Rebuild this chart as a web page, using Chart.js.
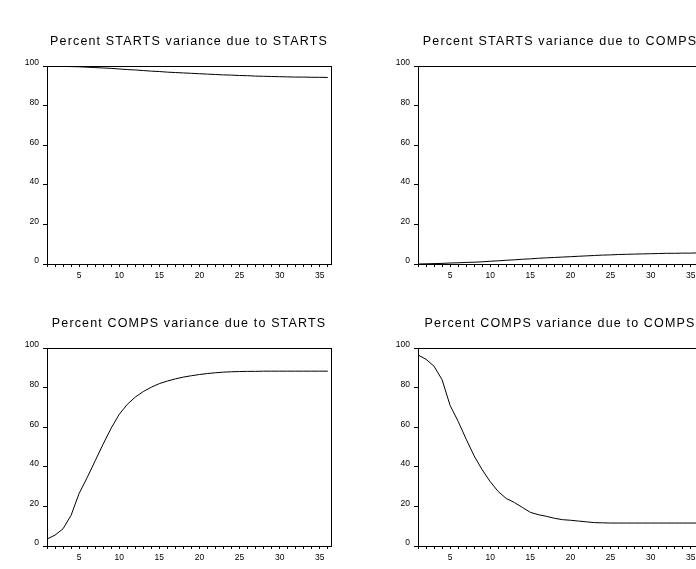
<!DOCTYPE html>
<html>
<head>
<meta charset="utf-8">
<script src="https://cdn.jsdelivr.net/npm/chart.js@4/dist/chart.umd.min.js"></script>
<style>
  html, body { margin: 0; padding: 0; background: #fff; overflow: hidden; width: 696px; height: 569px; }
  canvas { position: absolute; }
</style>
</head>
<body>
<canvas id="c1" width="340" height="288" style="left:0;top:0"></canvas>
<canvas id="c2" width="340" height="288" style="left:371px;top:0"></canvas>
<canvas id="c3" width="340" height="288" style="left:0;top:282px"></canvas>
<canvas id="c4" width="340" height="288" style="left:371px;top:282px"></canvas>
<script>
const periods = [1, 2, 3, 4, 5, 6, 7, 8, 9, 10, 11, 12, 13, 14, 15, 16, 17, 18,
  19, 20, 21, 22, 23, 24, 25, 26, 27, 28, 29, 30, 31, 32, 33, 34, 35, 36];

const titles = [
  'Percent STARTS variance due to STARTS',
  'Percent STARTS variance due to COMPS',
  'Percent COMPS variance due to STARTS',
  'Percent COMPS variance due to COMPS'
];

const yTicks = [0, 20, 40, 60, 80, 100];
const xLabels = [5, 10, 15, 20, 25, 30, 35];

const startsByStarts = [100, 99.9, 99.8, 99.7, 99.6, 99.4, 99.2, 99.0, 98.8, 98.5, 98.2, 98.0,
  97.7, 97.4, 97.2, 96.9, 96.7, 96.5, 96.3, 96.1, 95.9, 95.7, 95.5, 95.4,
  95.2, 95.1, 94.9, 94.8, 94.7, 94.6, 94.5, 94.4, 94.4, 94.3, 94.3, 94.2];

const startsByComps = [0, 0.1, 0.2, 0.3, 0.5, 0.6, 0.8, 0.9, 1.1, 1.4, 1.6, 1.9,
  2.1, 2.4, 2.6, 2.9, 3.1, 3.3, 3.5, 3.7, 3.9, 4.1, 4.3, 4.5,
  4.6, 4.8, 4.9, 5.0, 5.1, 5.2, 5.3, 5.4, 5.4, 5.5, 5.5, 5.6];

const compsByStarts = [3.5, 5.5, 8.7, 15.5, 26.5, 34.5, 43, 51.5, 59.5, 66.5, 71.5, 75.2,
  78, 80.2, 82, 83.3, 84.4, 85.3, 86, 86.6, 87.1, 87.5, 87.8, 88.0,
  88.1, 88.2, 88.2, 88.3, 88.3, 88.3, 88.3, 88.3, 88.3, 88.3, 88.3, 88.3];

const compsByComps = [96.5, 94.3, 90.8, 84, 71, 63, 54, 45.5, 38.5, 32.5, 27.5, 24,
  22, 19.5, 17, 15.8, 15, 14, 13.3, 13, 12.6, 12.2, 11.8, 11.7,
  11.6, 11.6, 11.6, 11.6, 11.6, 11.6, 11.6, 11.6, 11.6, 11.6, 11.6, 11.6];

const fontFamily = 'Arial, "Liberation Sans", sans-serif';

// box around the plot area
const frame = {
  id: 'frame',
  afterDatasetsDraw(chart) {
    const { ctx, chartArea: a } = chart;
    ctx.save();
    ctx.strokeStyle = '#000';
    ctx.lineWidth = 1;
    ctx.strokeRect(Math.round(a.left) + 0.5, Math.round(a.top) + 0.5,
      Math.round(a.right - a.left), Math.round(a.bottom - a.top));
    ctx.restore();
  }
};

function makePanel(id, title, values) {
  const chart = new Chart(document.getElementById(id), {
    type: 'line',
    data: {
      datasets: [{
        data: periods.map((p, i) => ({ x: p, y: values[i] })),
        borderColor: '#000',
        borderWidth: 1,
        pointRadius: 0,
        tension: 0,
        fill: false
      }]
    },
    options: {
      responsive: false,
      animation: false,
      events: [],
      layout: { padding: { top: 0, left: 0, right: 9, bottom: 0 } },
      plugins: {
        legend: { display: false },
        tooltip: { enabled: false },
        title: {
          display: true,
          text: title,
          fullSize: false,
          color: '#000',
          font: { family: fontFamily, size: 12.5, weight: 'normal', lineHeight: 1.2 },
          padding: { top: 34, bottom: 17 }
        }
      },
      scales: {
        x: {
          type: 'linear',
          min: 1,
          max: 36.4,
          afterFit(s) { s.height = 24; },
          grid: { drawOnChartArea: false, drawTicks: true, tickLength: 3, color: '#000' },
          border: { display: false },
          ticks: {
            stepSize: 1,
            includeBounds: false,
            autoSkip: false,
            maxRotation: 0,
            padding: 4,
            color: '#000',
            font: { family: fontFamily, size: 8.5 },
            callback: v => xLabels.includes(v) ? String(v) : ''
          }
        },
        y: {
          min: 0,
          max: 100,
          afterFit(s) { s.width = 47; },
          afterBuildTicks(s) { s.ticks = yTicks.map(v => ({ value: v })); },
          grid: { drawOnChartArea: false, drawTicks: true, tickLength: 4, color: '#000' },
          border: { display: false },
          ticks: {
            padding: 4,
            labelOffset: -3,
            color: '#000',
            font: { family: fontFamily, size: 8.5 }
          }
        }
      }
    },
    plugins: [frame]
  });

  // EViews titles are spaced out a bit
  const tb = chart.titleBlock;
  const drawTitle = tb.draw.bind(tb);
  tb.draw = function (area) {
    chart.ctx.save();
    chart.ctx.letterSpacing = '1.15px';
    drawTitle(area);
    chart.ctx.restore();
  };
  chart.draw();
  return chart;
}

makePanel('c1', titles[0], startsByStarts);
makePanel('c2', titles[1], startsByComps);
makePanel('c3', titles[2], compsByStarts);
makePanel('c4', titles[3], compsByComps);
</script>
</body>
</html>
